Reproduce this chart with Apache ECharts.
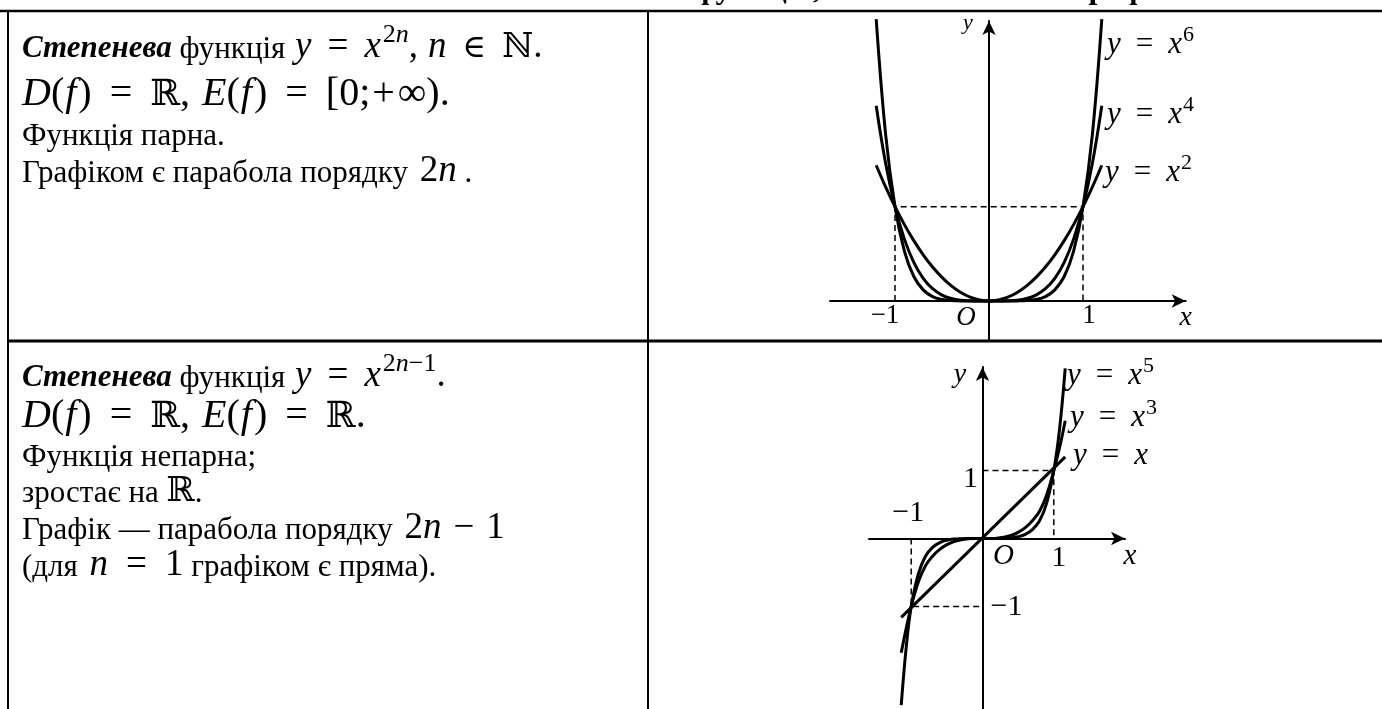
<!DOCTYPE html>
<html>
<head>
<meta charset="utf-8">
<script src="https://cdn.jsdelivr.net/npm/echarts@6/dist/echarts.min.js"></script>
<style>
  html, body { margin: 0; padding: 0; background: #fff; }
  #chart { width: 1382px; height: 709px; }
</style>
</head>
<body>
<div id="chart"></div>
<script>
// ---- data: even powers y = x^2, x^4, x^6 on [-1.2, 1.2] ----
const evenX    = [-1.2, -1.1, -1.0, -0.9, -0.8, -0.7, -0.6, -0.5, -0.4, -0.3, -0.2, -0.1, 0, 0.1, 0.2, 0.3, 0.4, 0.5, 0.6, 0.7, 0.8, 0.9, 1.0, 1.1, 1.2];
const evenPow2 = [1.44, 1.21, 1.00, 0.81, 0.64, 0.49, 0.36, 0.25, 0.16, 0.09, 0.04, 0.01, 0, 0.01, 0.04, 0.09, 0.16, 0.25, 0.36, 0.49, 0.64, 0.81, 1.00, 1.21, 1.44];
const evenPow4 = [2.07, 1.46, 1.00, 0.656, 0.41, 0.24, 0.13, 0.063, 0.026, 0.008, 0.002, 0.000, 0, 0.000, 0.002, 0.008, 0.026, 0.063, 0.13, 0.24, 0.41, 0.656, 1.00, 1.46, 2.07];
const evenPow6 = [2.99, 1.77, 1.00, 0.53, 0.26, 0.118, 0.047, 0.016, 0.004, 0.001, 0.000, 0.000, 0, 0.000, 0.000, 0.001, 0.004, 0.016, 0.047, 0.118, 0.26, 0.53, 1.00, 1.77, 2.99];
const evenGuideX = [-1, -1, 1, 1];
const evenGuideY = [0, 1, 1, 0];
const evenTickValues = [-1, 1];
const evenTickLabels = ['−1', '1'];

// ---- data: odd powers y = x, x^3, x^5 ----
const oddLineX = [-1.14, 1.16];
const oddLineY = [-1.16, 1.20];
const oddX    = [-1.14, -1.07, -1.0, -0.9, -0.8, -0.7, -0.6, -0.5, -0.4, -0.3, -0.2, -0.1, 0, 0.1, 0.2, 0.3, 0.4, 0.5, 0.6, 0.7, 0.8, 0.9, 1.0, 1.08, 1.16];
const oddPow3 = [-1.68, -1.32, -1.0, -0.64, -0.40, -0.26, -0.16, -0.09, -0.045, -0.02, -0.005, -0.001, 0, 0.001, 0.005, 0.02, 0.045, 0.09, 0.16, 0.26, 0.40, 0.64, 1.0, 1.33, 1.73];
const oddPow5 = [-2.45, -1.60, -1.0, -0.52, -0.26, -0.13, -0.06, -0.025, -0.008, -0.002, -0.0003, 0, 0, 0, 0.0003, 0.002, 0.008, 0.025, 0.06, 0.13, 0.26, 0.52, 1.0, 1.6, 2.5];
const oddGuideUpperX = [0, 1, 1];
const oddGuideUpperY = [1, 1, 0];
const oddGuideLowerX = [-1, -1, 0];
const oddGuideLowerY = [0, -1, -1];
const oddXTickValues = [-1, 1];
const oddXTickLabels = ['−1', '1'];
const oddYTickValues = [1, -1];
const oddYTickLabels = ['1', '−1'];

// ---- layout ----
const SERIF = '"Liberation Serif", "Times New Roman", serif';
const SYM = '"DejaVu Serif", serif';
const ARROW = [10, 14];

// origin pixel, unit length in px, and pixel extents of the axis lines
const evenFrame = { ox: 989, oy: 301, ux: 94, uy: 94.3, left: 830, right: 1192.7, top: 14, bottom: 341 };
const oddFrame  = { ox: 982.5, oy: 540, ux: 71.3, uy: 68.65, left: 869, right: 1132, top: 360, bottom: 712 };

function frameGrid(fr) {
  const r = fr.right - ARROW[1] / 2, t = fr.top + ARROW[1] / 2;
  return {
    grid: { left: fr.left, top: t, width: r - fr.left, height: fr.bottom - t, containLabel: false },
    xr: [(fr.left - fr.ox) / fr.ux, (r - fr.ox) / fr.ux],
    yr: [(fr.oy - fr.bottom) / fr.uy, (fr.oy - t) / fr.uy]
  };
}
const gEven = frameGrid(evenFrame);
const gOdd = frameGrid(oddFrame);

function axis(gridIndex, range) {
  return {
    type: 'value', gridIndex, min: range[0], max: range[1],
    axisLine: { onZero: true, symbol: ['none', 'arrow'], symbolSize: ARROW, lineStyle: { color: '#000', width: 2 } },
    axisTick: { show: false }, axisLabel: { show: false }, splitLine: { show: false }
  };
}
const pairs = (xs, ys) => xs.map((x, i) => [x, ys[i]]);
function curve(idx, xs, ys) {
  return {
    type: 'line', xAxisIndex: idx, yAxisIndex: idx, data: pairs(xs, ys),
    smooth: 0.4, showSymbol: false, clip: false, silent: true, z: 5,
    lineStyle: { color: '#000', width: 3 }
  };
}
function guide(idx, xs, ys) {
  return {
    type: 'line', xAxisIndex: idx, yAxisIndex: idx, data: pairs(xs, ys),
    showSymbol: false, clip: false, silent: true, z: 3,
    lineStyle: { color: '#000', width: 1.5, type: [6, 4] }
  };
}

// ---- lines of mixed text built from measured runs ----
const mctx = document.createElement('canvas').getContext('2d');
function runFont(p) { return (p.st || 'normal') + ' ' + p.s + 'px ' + (p.fam || SERIF); }
function textLine(x, baseline, parts, align) {
  let total = 0;
  parts.forEach(p => { mctx.font = runFont(p); total += (p.pre || 0) + mctx.measureText(p.t).width + (p.post || 0); });
  let cx = align === 'center' ? x - total / 2 : x;
  const els = [];
  parts.forEach(p => {
    const font = runFont(p);
    cx += p.pre || 0;
    els.push({
      type: 'text', x: cx, y: baseline + (p.dy || 0) - 0.34 * p.s, silent: true, z: 50,
      style: { text: p.t, font, fill: '#000', textAlign: 'left', textVerticalAlign: 'middle' }
    });
    mctx.font = font;
    cx += mctx.measureText(p.t).width + (p.post || 0);
  });
  return els;
}
const B = 31, M = 37, L = 40, S = 26;
const it = 'italic', bi = 'italic bold';
const EQ = 16, EQL = 18;

function cellTexts() {
  let e = [];
  // upper-left cell
  e = e.concat(textLine(22, 60, [
    { t: 'Степенева', st: bi, s: B }, { t: ' функція ', s: B },
    { t: 'y', st: it, s: M, pre: 2, post: EQ }, { t: '=', s: M, post: EQ }, { t: 'x', st: it, s: M },
    { t: '2', s: S, dy: -16, pre: 2 }, { t: 'n', st: it, s: S, dy: -16 },
    { t: ',', s: M, post: 10 }, { t: 'n', st: it, s: M, post: EQ }, { t: '∈', s: 32, fam: SYM, post: EQ },
    { t: 'ℕ', s: 34, fam: SYM }, { t: '.', s: M }
  ]));
  e = e.concat(textLine(22, 108, [
    { t: 'D', st: it, s: L }, { t: '(', s: L }, { t: 'f', st: it, s: L, pre: 1 }, { t: ')', s: L, pre: 2, post: EQL },
    { t: '=', s: L, post: EQL }, { t: 'ℝ', s: 36, fam: SYM }, { t: ',', s: L, post: 12 },
    { t: 'E', st: it, s: L }, { t: '(', s: L }, { t: 'f', st: it, s: L, pre: 1 }, { t: ')', s: L, pre: 2, post: EQL },
    { t: '=', s: L, post: EQL }, { t: '[0;', s: L, post: 2 }, { t: '+', s: L, post: 3 }, { t: '∞', s: L }, { t: ').', s: L }
  ]));
  e = e.concat(textLine(22, 147, [{ t: 'Функція парна.', s: B }]));
  e = e.concat(textLine(22, 184, [
    { t: 'Графіком є парабола порядку ', s: B }, { t: '2', s: M, pre: 4 }, { t: 'n', st: it, s: M }, { t: ' .', s: B }
  ]));
  // lower-left cell
  e = e.concat(textLine(22, 389, [
    { t: 'Степенева', st: bi, s: B }, { t: ' функція ', s: B },
    { t: 'y', st: it, s: M, pre: 2, post: EQ }, { t: '=', s: M, post: EQ }, { t: 'x', st: it, s: M },
    { t: '2', s: S, dy: -16, pre: 2 }, { t: 'n', st: it, s: S, dy: -16 }, { t: '−1', s: S, dy: -16 },
    { t: '.', s: M }
  ]));
  e = e.concat(textLine(22, 430, [
    { t: 'D', st: it, s: L }, { t: '(', s: L }, { t: 'f', st: it, s: L, pre: 1 }, { t: ')', s: L, pre: 2, post: EQL },
    { t: '=', s: L, post: EQL }, { t: 'ℝ', s: 36, fam: SYM }, { t: ',', s: L, post: 12 },
    { t: 'E', st: it, s: L }, { t: '(', s: L }, { t: 'f', st: it, s: L, pre: 1 }, { t: ')', s: L, pre: 2, post: EQL },
    { t: '=', s: L, post: EQL }, { t: 'ℝ', s: 36, fam: SYM }, { t: '.', s: L }
  ]));
  e = e.concat(textLine(22, 468, [{ t: 'Функція непарна;', s: B }]));
  e = e.concat(textLine(22, 504, [{ t: 'зростає на ', s: B }, { t: 'ℝ', s: 34, fam: SYM }, { t: '.', s: B }]));
  e = e.concat(textLine(22, 541, [
    { t: 'Графік — парабола порядку ', s: B }, { t: '2', s: M, pre: 4 }, { t: 'n', st: it, s: M, post: 12 },
    { t: '−', s: M, post: 12 }, { t: '1', s: M }
  ]));
  e = e.concat(textLine(22, 578, [
    { t: '(для ', s: B }, { t: 'n', st: it, s: M, pre: 4, post: EQL }, { t: '=', s: M, post: EQL }, { t: '1', s: M },
    { t: ' графіком є пряма).', s: B }
  ]));
  // heading of the sheet, running above the table's top edge
  e = e.concat(textLine(535, 1, [{ t: 'Степенева функція, її властивості та графік', st: 'bold', s: 32 }]));
  return e;
}

function eqLabel(x, baseline, sup) {
  const G = 31;
  const parts = [{ t: 'y', st: it, s: G, post: 15 }, { t: '=', s: G, post: 15 }, { t: 'x', st: it, s: G }];
  if (sup) parts.push({ t: sup, s: 22, dy: -12, pre: 1 });
  return textLine(x, baseline, parts);
}

const chart = echarts.init(document.getElementById('chart'), null, { renderer: 'canvas', width: 1382, height: 709 });
chart.setOption({
  animation: false,
  backgroundColor: '#fff',
  grid: [gEven.grid, gOdd.grid],
  xAxis: [axis(0, gEven.xr), axis(1, gOdd.xr)],
  yAxis: [axis(0, gEven.yr), axis(1, gOdd.yr)],
  series: [
    guide(0, evenGuideX, evenGuideY),
    curve(0, evenX, evenPow2),
    curve(0, evenX, evenPow4),
    curve(0, evenX, evenPow6),
    guide(1, oddGuideUpperX, oddGuideUpperY),
    guide(1, oddGuideLowerX, oddGuideLowerY),
    curve(1, oddLineX, oddLineY),
    curve(1, oddX, oddPow3),
    curve(1, oddX, oddPow5)
  ]
});

// labels anchored to axis values
const px = (g, x, y) => chart.convertToPixel({ gridIndex: g }, [x, y]);
let g = cellTexts();

// upper graph
g = g.concat(textLine(963, 31, [{ t: 'y', st: it, s: 22 }]));
g = g.concat(eqLabel(1107, 55, '6'));
g = g.concat(eqLabel(1107, 125, '4'));
g = g.concat(eqLabel(1105, 183, '2'));
const evenTickShift = [-10, 6];
evenTickValues.forEach((v, i) => {
  const p = px(0, v, 0);
  g = g.concat(textLine(p[0] + evenTickShift[i], p[1] + 24, [{ t: evenTickLabels[i], s: 27 }], 'center'));
});
{
  const o = px(0, 0, 0);
  g = g.concat(textLine(o[0] - 23, o[1] + 26, [{ t: 'O', st: it, s: 27 }], 'center'));
  g = g.concat(textLine(evenFrame.right - 7, o[1] + 26, [{ t: 'x', st: it, s: 28 }], 'center'));
}

// lower graph
g = g.concat(textLine(960, 384, [{ t: 'y', st: it, s: 28 }], 'center'));
g = g.concat(eqLabel(1067, 386, '5'));
g = g.concat(eqLabel(1070, 428, '3'));
g = g.concat(eqLabel(1073, 466, ''));
{
  const o = px(1, 0, 0);
  const xl = [{ dx: -3, dy: -15 }, { dx: 5, dy: 30 }];
  oddXTickValues.forEach((v, i) => {
    const p = px(1, v, 0);
    g = g.concat(textLine(p[0] + xl[i].dx, p[1] + xl[i].dy, [{ t: oddXTickLabels[i], s: 30 }], 'center'));
  });
  const yl = [{ dx: -12, dy: 19, a: 'center' }, { dx: 8, dy: 11, a: 'left' }];
  oddYTickValues.forEach((v, i) => {
    const p = px(1, 0, v);
    g = g.concat(textLine(p[0] + yl[i].dx, p[1] + yl[i].dy, [{ t: oddYTickLabels[i], s: 30 }], yl[i].a));
  });
  g = g.concat(textLine(o[0] + 21, o[1] + 28, [{ t: 'O', st: it, s: 29 }], 'center'));
  g = g.concat(textLine(oddFrame.right - 2, o[1] + 28, [{ t: 'x', st: it, s: 29 }], 'center'));
}

// table rules
const rule = (x1, y1, x2, y2, w) => ({
  type: 'line', silent: true, z: 100,
  shape: { x1, y1, x2, y2 }, style: { stroke: '#000', lineWidth: w }
});
g.push(rule(0, 11, 1382, 11, 2.5));
g.push(rule(8, 10, 8, 709, 2));
g.push(rule(648, 10, 648, 709, 2));
g.push(rule(7, 341, 1382, 341, 3));

chart.setOption({ graphic: { elements: g } });
</script>
</body>
</html>
